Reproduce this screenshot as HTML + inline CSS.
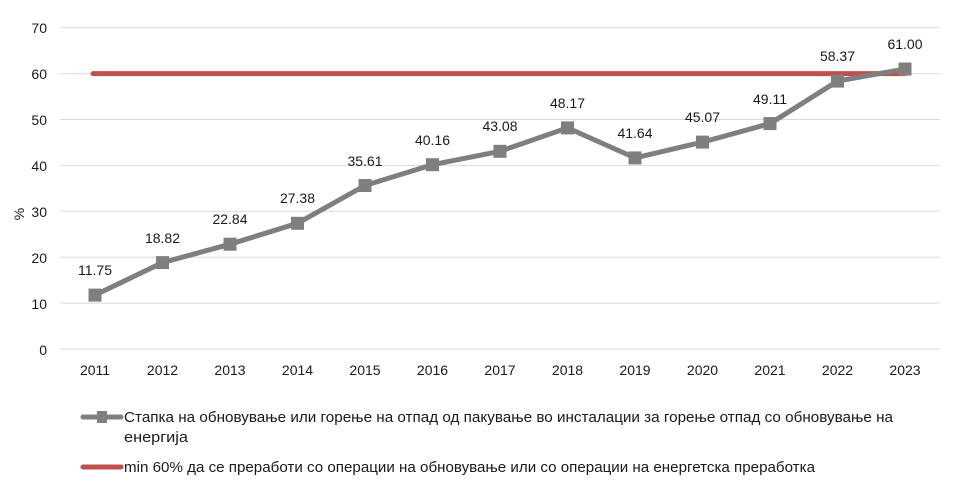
<!DOCTYPE html>
<html><head><meta charset="utf-8"><style>
body{margin:0;background:#fff}
svg text{font-family:"Liberation Sans",sans-serif;fill:#1a1a1a}
</style></head><body>
<svg width="960" height="491" viewBox="0 0 960 491" xmlns="http://www.w3.org/2000/svg">
<g stroke="#d9d9d9" stroke-width="1">
<line x1="60" y1="27.7" x2="940" y2="27.7"/>
<line x1="60" y1="73.6" x2="940" y2="73.6"/>
<line x1="60" y1="119.5" x2="940" y2="119.5"/>
<line x1="60" y1="165.4" x2="940" y2="165.4"/>
<line x1="60" y1="211.3" x2="940" y2="211.3"/>
<line x1="60" y1="257.2" x2="940" y2="257.2"/>
<line x1="60" y1="303.1" x2="940" y2="303.1"/>
<line x1="60" y1="349" x2="940" y2="349"/>
</g>
<g font-size="14" text-anchor="end">
<text x="47" y="33">70</text><text x="47" y="79">60</text><text x="47" y="125">50</text><text x="47" y="171">40</text>
<text x="47" y="217">30</text><text x="47" y="263">20</text><text x="47" y="309">10</text><text x="47" y="355">0</text>
</g>
<text x="0" y="0" font-size="14" transform="translate(24,214) rotate(-90)" text-anchor="middle">%</text>
<g font-size="14" text-anchor="middle">
<text x="95" y="375">2011</text><text x="162.5" y="375">2012</text><text x="230" y="375">2013</text><text x="297.5" y="375">2014</text><text x="365" y="375">2015</text><text x="432.5" y="375">2016</text><text x="500" y="375">2017</text><text x="567.5" y="375">2018</text><text x="635" y="375">2019</text><text x="702.5" y="375">2020</text><text x="770" y="375">2021</text><text x="837.5" y="375">2022</text><text x="905" y="375">2023</text>
</g>
<line x1="93" y1="73.6" x2="905" y2="73.6" stroke="#c0504d" stroke-width="5" stroke-linecap="round"/>
<polyline fill="none" stroke="#7f7f7f" stroke-width="5" stroke-linejoin="round" points="95,295.1 162.5,262.6 230,244.2 297.5,223.3 365,185.5 432.5,164.7 500,151.3 567.5,127.9 635,157.9 702.5,142.1 770,123.6 837.5,81.1 905,69"/>
<g fill="#7f7f7f">
<rect x="88.5" y="288.6" width="13" height="13"/><rect x="156" y="256.1" width="13" height="13"/><rect x="223.5" y="237.7" width="13" height="13"/><rect x="291" y="216.8" width="13" height="13"/><rect x="358.5" y="179" width="13" height="13"/><rect x="426" y="158.2" width="13" height="13"/><rect x="493.5" y="144.8" width="13" height="13"/><rect x="561" y="121.4" width="13" height="13"/><rect x="628.5" y="151.4" width="13" height="13"/><rect x="696" y="135.6" width="13" height="13"/><rect x="763.5" y="117.1" width="13" height="13"/><rect x="831" y="74.6" width="13" height="13"/><rect x="898.5" y="62.5" width="13" height="13"/>
</g>
<g font-size="14" text-anchor="middle">
<text x="95" y="275">11.75</text><text x="162.5" y="243">18.82</text><text x="230" y="224">22.84</text><text x="297.5" y="203">27.38</text><text x="365" y="166">35.61</text><text x="432.5" y="145">40.16</text><text x="500" y="131">43.08</text><text x="567.5" y="108">48.17</text><text x="635" y="138">41.64</text><text x="702.5" y="122">45.07</text><text x="770" y="104">49.11</text><text x="837.5" y="61">58.37</text><text x="905" y="49">61.00</text>
</g>
<line x1="83" y1="417" x2="121" y2="417" stroke="#7f7f7f" stroke-width="5" stroke-linecap="round"/>
<rect x="97" y="411" width="10" height="12" fill="#7f7f7f"/>
<text x="124" y="422" font-size="14.5" textLength="769" lengthAdjust="spacingAndGlyphs">Стапка на обновување или горење на отпад од пакување во инсталации за горење отпад со обновување на</text>
<text x="124" y="442" font-size="14.5" textLength="64" lengthAdjust="spacingAndGlyphs">енергија</text>
<line x1="83" y1="467" x2="121" y2="467" stroke="#c0504d" stroke-width="5" stroke-linecap="round"/>
<text x="124" y="472" font-size="14.5" textLength="691" lengthAdjust="spacingAndGlyphs">min 60% да се преработи со операции на обновување или со операции на енергетска преработка</text>
</svg>
</body></html>
